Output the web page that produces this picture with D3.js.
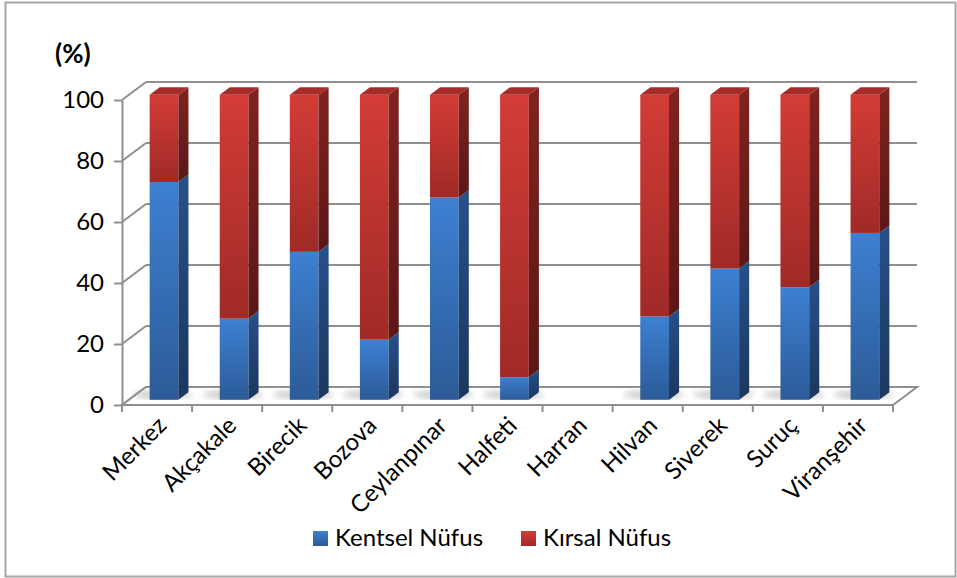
<!DOCTYPE html>
<html>
<head>
<meta charset="utf-8">
<script src="https://cdn.jsdelivr.net/npm/d3@7"></script>
<style>
  body { margin: 0; background: #fff; }
  text { font-family: Lato, "Open Sans", sans-serif; fill: #000; }
</style>
</head>
<body>
<div id="chart"></div>
<script>
// data
const districts = ["Merkez", "Akçakale", "Birecik", "Bozova", "Ceylanpınar", "Halfeti", "Harran", "Hilvan", "Siverek", "Suruç", "Viranşehir"];
const kentsel = [71.4, 26.6, 48.5, 19.7, 66.3, 7.4, null, 27.3, 43.0, 36.9, 54.7];
const kirsal = [28.6, 73.4, 51.5, 80.3, 33.7, 92.6, null, 72.7, 57.0, 63.1, 45.3];
const yTicks = [0, 20, 40, 60, 80, 100];
const seriesNames = ["Kentsel Nüfus", "Kırsal Nüfus"];

const width = 957, height = 578;
const depthX = 24, depthY = 18;   // back wall offset
const z0 = 0.29, z1 = 0.71;       // bar depth inside the plot

const svg = d3.select("#chart").append("svg")
    .attr("width", width)
    .attr("height", height);

const x = d3.scaleBand().domain(districts).range([122, 893]).paddingInner(0).paddingOuter(0);
const y = d3.scaleLinear().domain([0, 100]).range([405, 100]);

const proj = (px, py, z) => [px + z * depthX, py - z * depthY];
const pts = arr => arr.map(p => p.join(",")).join(" ");

// gradients
const defs = svg.append("defs");
function grad(id, c1, c2) {
    const g = defs.append("linearGradient").attr("id", id)
        .attr("x1", 0).attr("y1", 0).attr("x2", 0).attr("y2", 1);
    g.append("stop").attr("offset", "0%").attr("stop-color", c1);
    g.append("stop").attr("offset", "100%").attr("stop-color", c2);
}
grad("blueFront", "#3d80d2", "#2c5b97");
grad("blueSide", "#27508a", "#1b375e");
grad("redFront", "#d33c37", "#a02a27");
grad("redSide", "#80231f", "#5a1816");
defs.append("filter").attr("id", "blur").append("feGaussianBlur").attr("stdDeviation", 3);

// outer frame
svg.append("rect")
    .attr("x", 5.5).attr("y", 2.5)
    .attr("width", 950).attr("height", 574)
    .attr("fill", "none")
    .attr("stroke", "#a6a6a6")
    .attr("stroke-width", 2);

const grid = svg.append("g");
const gridColor = "#8f8f8f";

// back wall gridlines + left wall diagonals
yTicks.forEach(t => {
    const f = proj(x.range()[0], y(t), 0);
    const b = proj(x.range()[0], y(t), 1);
    const e = proj(x.range()[1], y(t), 1);
    grid.append("line")
        .attr("x1", b[0]).attr("y1", b[1]).attr("x2", e[0]).attr("y2", e[1])
        .attr("stroke", gridColor).attr("stroke-width", 2);
    grid.append("line")
        .attr("x1", f[0]).attr("y1", f[1]).attr("x2", b[0]).attr("y2", b[1])
        .attr("stroke", gridColor).attr("stroke-width", 2);
});

// floor outline
const fl = [proj(x.range()[0], y(0), 0), proj(x.range()[1], y(0), 0), proj(x.range()[1], y(0), 1), proj(x.range()[0], y(0), 1)];
grid.append("polygon")
    .attr("points", pts(fl))
    .attr("fill", "#fff")
    .attr("stroke", gridColor)
    .attr("stroke-width", 2);

// front y axis
const yAxis = d3.axisLeft(y).tickValues(yTicks).tickSize(8).tickSizeOuter(0).tickPadding(10);
const ya = svg.append("g").attr("transform", `translate(${x.range()[0]},0)`).call(yAxis);
ya.select(".domain").attr("stroke", gridColor).attr("stroke-width", 2);
ya.selectAll(".tick line").attr("stroke", gridColor).attr("stroke-width", 2);
ya.selectAll(".tick text").style("font-size", "24px").attr("dy", "0.3em");

// x axis ticks at band boundaries
const xTickPos = districts.map(d => x(d)).concat([x.range()[1]]);
svg.append("g").selectAll("line").data(xTickPos).enter().append("line")
    .attr("x1", d => d).attr("x2", d => d)
    .attr("y1", y(0)).attr("y2", y(0) + 7)
    .attr("stroke", gridColor).attr("stroke-width", 2);

// bars
const bw = x.bandwidth() * 0.41;
const bars = svg.append("g");
districts.forEach((d, i) => {
    if (kentsel[i] == null) return;
    const left = x(d) + (x.bandwidth() - bw) / 2;
    const segs = [
        { v0: 0, v1: kentsel[i], front: "url(#blueFront)", side: "url(#blueSide)", top: "#2f65a8" },
        { v0: kentsel[i], v1: kentsel[i] + kirsal[i], front: "url(#redFront)", side: "url(#redSide)", top: "#a52c28" }
    ];
    // shadow on floor
    const s0 = proj(left - 14, y(0), z0 + 0.05), s1 = proj(left + bw + 6, y(0), z1 + 0.1);
    bars.append("ellipse")
        .attr("cx", (s0[0] + s1[0]) / 2 - 4).attr("cy", (s0[1] + s1[1]) / 2)
        .attr("rx", (s1[0] - s0[0]) / 2).attr("ry", 4)
        .attr("fill", "#9a9a9a").attr("opacity", 0.55)
        .attr("filter", "url(#blur)");
    segs.forEach((s, k) => {
        const a = proj(left, y(s.v1), z0), b = proj(left + bw, y(s.v0), z0);
        bars.append("rect")
            .attr("x", a[0]).attr("y", a[1])
            .attr("width", b[0] - a[0]).attr("height", b[1] - a[1])
            .attr("fill", s.front);
        const side = [proj(left + bw, y(s.v1), z0), proj(left + bw, y(s.v1), z1), proj(left + bw, y(s.v0), z1), proj(left + bw, y(s.v0), z0)];
        bars.append("polygon").attr("points", pts(side)).attr("fill", s.side);
        if (k === segs.length - 1) {
            const top = [proj(left, y(s.v1), z0), proj(left, y(s.v1), z1), proj(left + bw, y(s.v1), z1), proj(left + bw, y(s.v1), z0)];
            bars.append("polygon").attr("points", pts(top)).attr("fill", s.top);
        }
    });
});

// category labels
svg.append("g").selectAll("text").data(districts).enter().append("text")
    .attr("transform", d => `translate(${x(d) + x.bandwidth() / 2 + 5},${y(0) + 16}) rotate(-45)`)
    .attr("text-anchor", "end")
    .attr("dy", "0.35em")
    .style("font-size", "24px")
    .text(d => d);

// unit label
svg.append("text")
    .attr("x", 55).attr("y", 63)
    .style("font-size", "26px")
    .style("font-weight", "bold")
    .text("(%)");

// legend
const legendColors = ["url(#blueFront)", "url(#redFront)"];
const legendX = [313, 521];
const lg = svg.append("g");
seriesNames.forEach((n, i) => {
    lg.append("rect")
        .attr("x", legendX[i]).attr("y", 531)
        .attr("width", 15).attr("height", 15)
        .attr("fill", legendColors[i]);
    lg.append("text")
        .attr("x", legendX[i] + 22).attr("y", 546)
        .style("font-size", "24px")
        .text(n);
});
</script>
</body>
</html>
